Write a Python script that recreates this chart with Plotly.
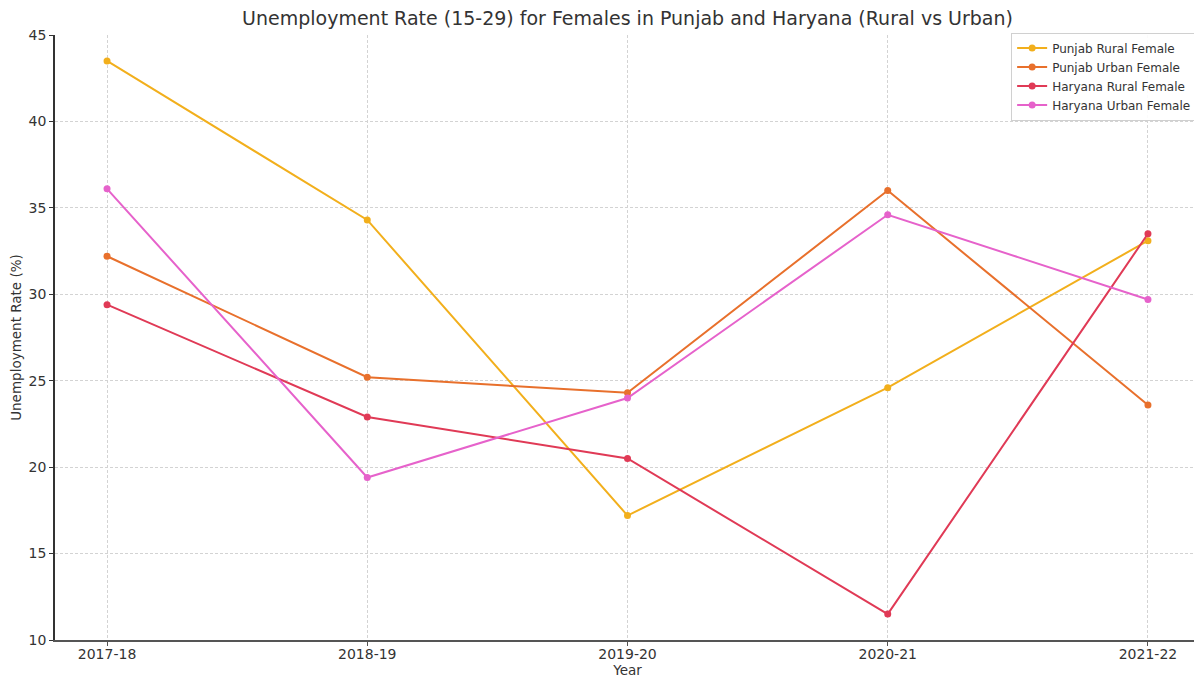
import plotly.graph_objects as go

years = ["2017-18", "2018-19", "2019-20", "2020-21", "2021-22"]
punjab_rural = [43.5, 34.3, 17.2, 24.6, 33.1]
punjab_urban = [32.2, 25.2, 24.3, 36.0, 23.6]
haryana_rural = [29.4, 22.9, 20.5, 11.5, 33.5]
haryana_urban = [36.1, 19.4, 24.0, 34.6, 29.7]

series = [
    ("Punjab Rural Female", punjab_rural, "#F2AF1C"),
    ("Punjab Urban Female", punjab_urban, "#E8702C"),
    ("Haryana Rural Female", haryana_rural, "#E03A56"),
    ("Haryana Urban Female", haryana_urban, "#E662CB"),
]

fig = go.Figure()
for name, vals, col in series:
    fig.add_trace(go.Scatter(
        x=list(range(len(years))), y=vals, name=name, mode="lines+markers",
        line=dict(color=col, width=2), marker=dict(color=col, size=7),
    ))

font = "DejaVu Sans, sans-serif"
fig.update_layout(
    width=1202, height=680,
    margin=dict(l=47, r=10, t=27, b=48),
    paper_bgcolor="white", plot_bgcolor="white",
    font=dict(family=font, size=14, color="#333333"),
    title=dict(text="Unemployment Rate (15-29) for Females in Punjab and Haryana (Rural vs Urban)",
               x=0.5, xref="paper", y=0.985, yanchor="middle",
               font=dict(size=19, color="#333333")),
    showlegend=True,
    legend=dict(x=0.9975, y=1.004, xanchor="right", yanchor="top",
                bgcolor="rgba(255,255,255,0.9)", bordercolor="#d0d0d0", borderwidth=1,
                font=dict(size=12, color="#333333"), tracegroupgap=0),
)
fig.update_xaxes(
    tickmode="array", tickvals=list(range(len(years))), ticktext=years,
    range=[-0.2, 4.2], showgrid=True, gridcolor="#d3d3d3", griddash="3px,2px", gridwidth=1,
    showline=True, linecolor="#555555", linewidth=2, ticks="outside", ticklen=4,
    tickcolor="#555555", zeroline=False, automargin=False, ticklabelstandoff=-4,
    title=dict(text="Year", font=dict(size=13.5), standoff=2),
    tickfont=dict(size=14),
)
fig.update_yaxes(
    range=[10, 45], tickvals=[10, 15, 20, 25, 30, 35, 40, 45],
    showgrid=True, gridcolor="#d3d3d3", griddash="3px,2px", gridwidth=1,
    showline=True, linecolor="#333333", linewidth=1.5, ticks="outside", ticklen=4,
    tickcolor="#333333", zeroline=False, automargin=False,
    title=dict(text="Unemployment Rate (%)", font=dict(size=13.5), standoff=4),
    tickfont=dict(size=14),
)

fig.write_html("out.html")
